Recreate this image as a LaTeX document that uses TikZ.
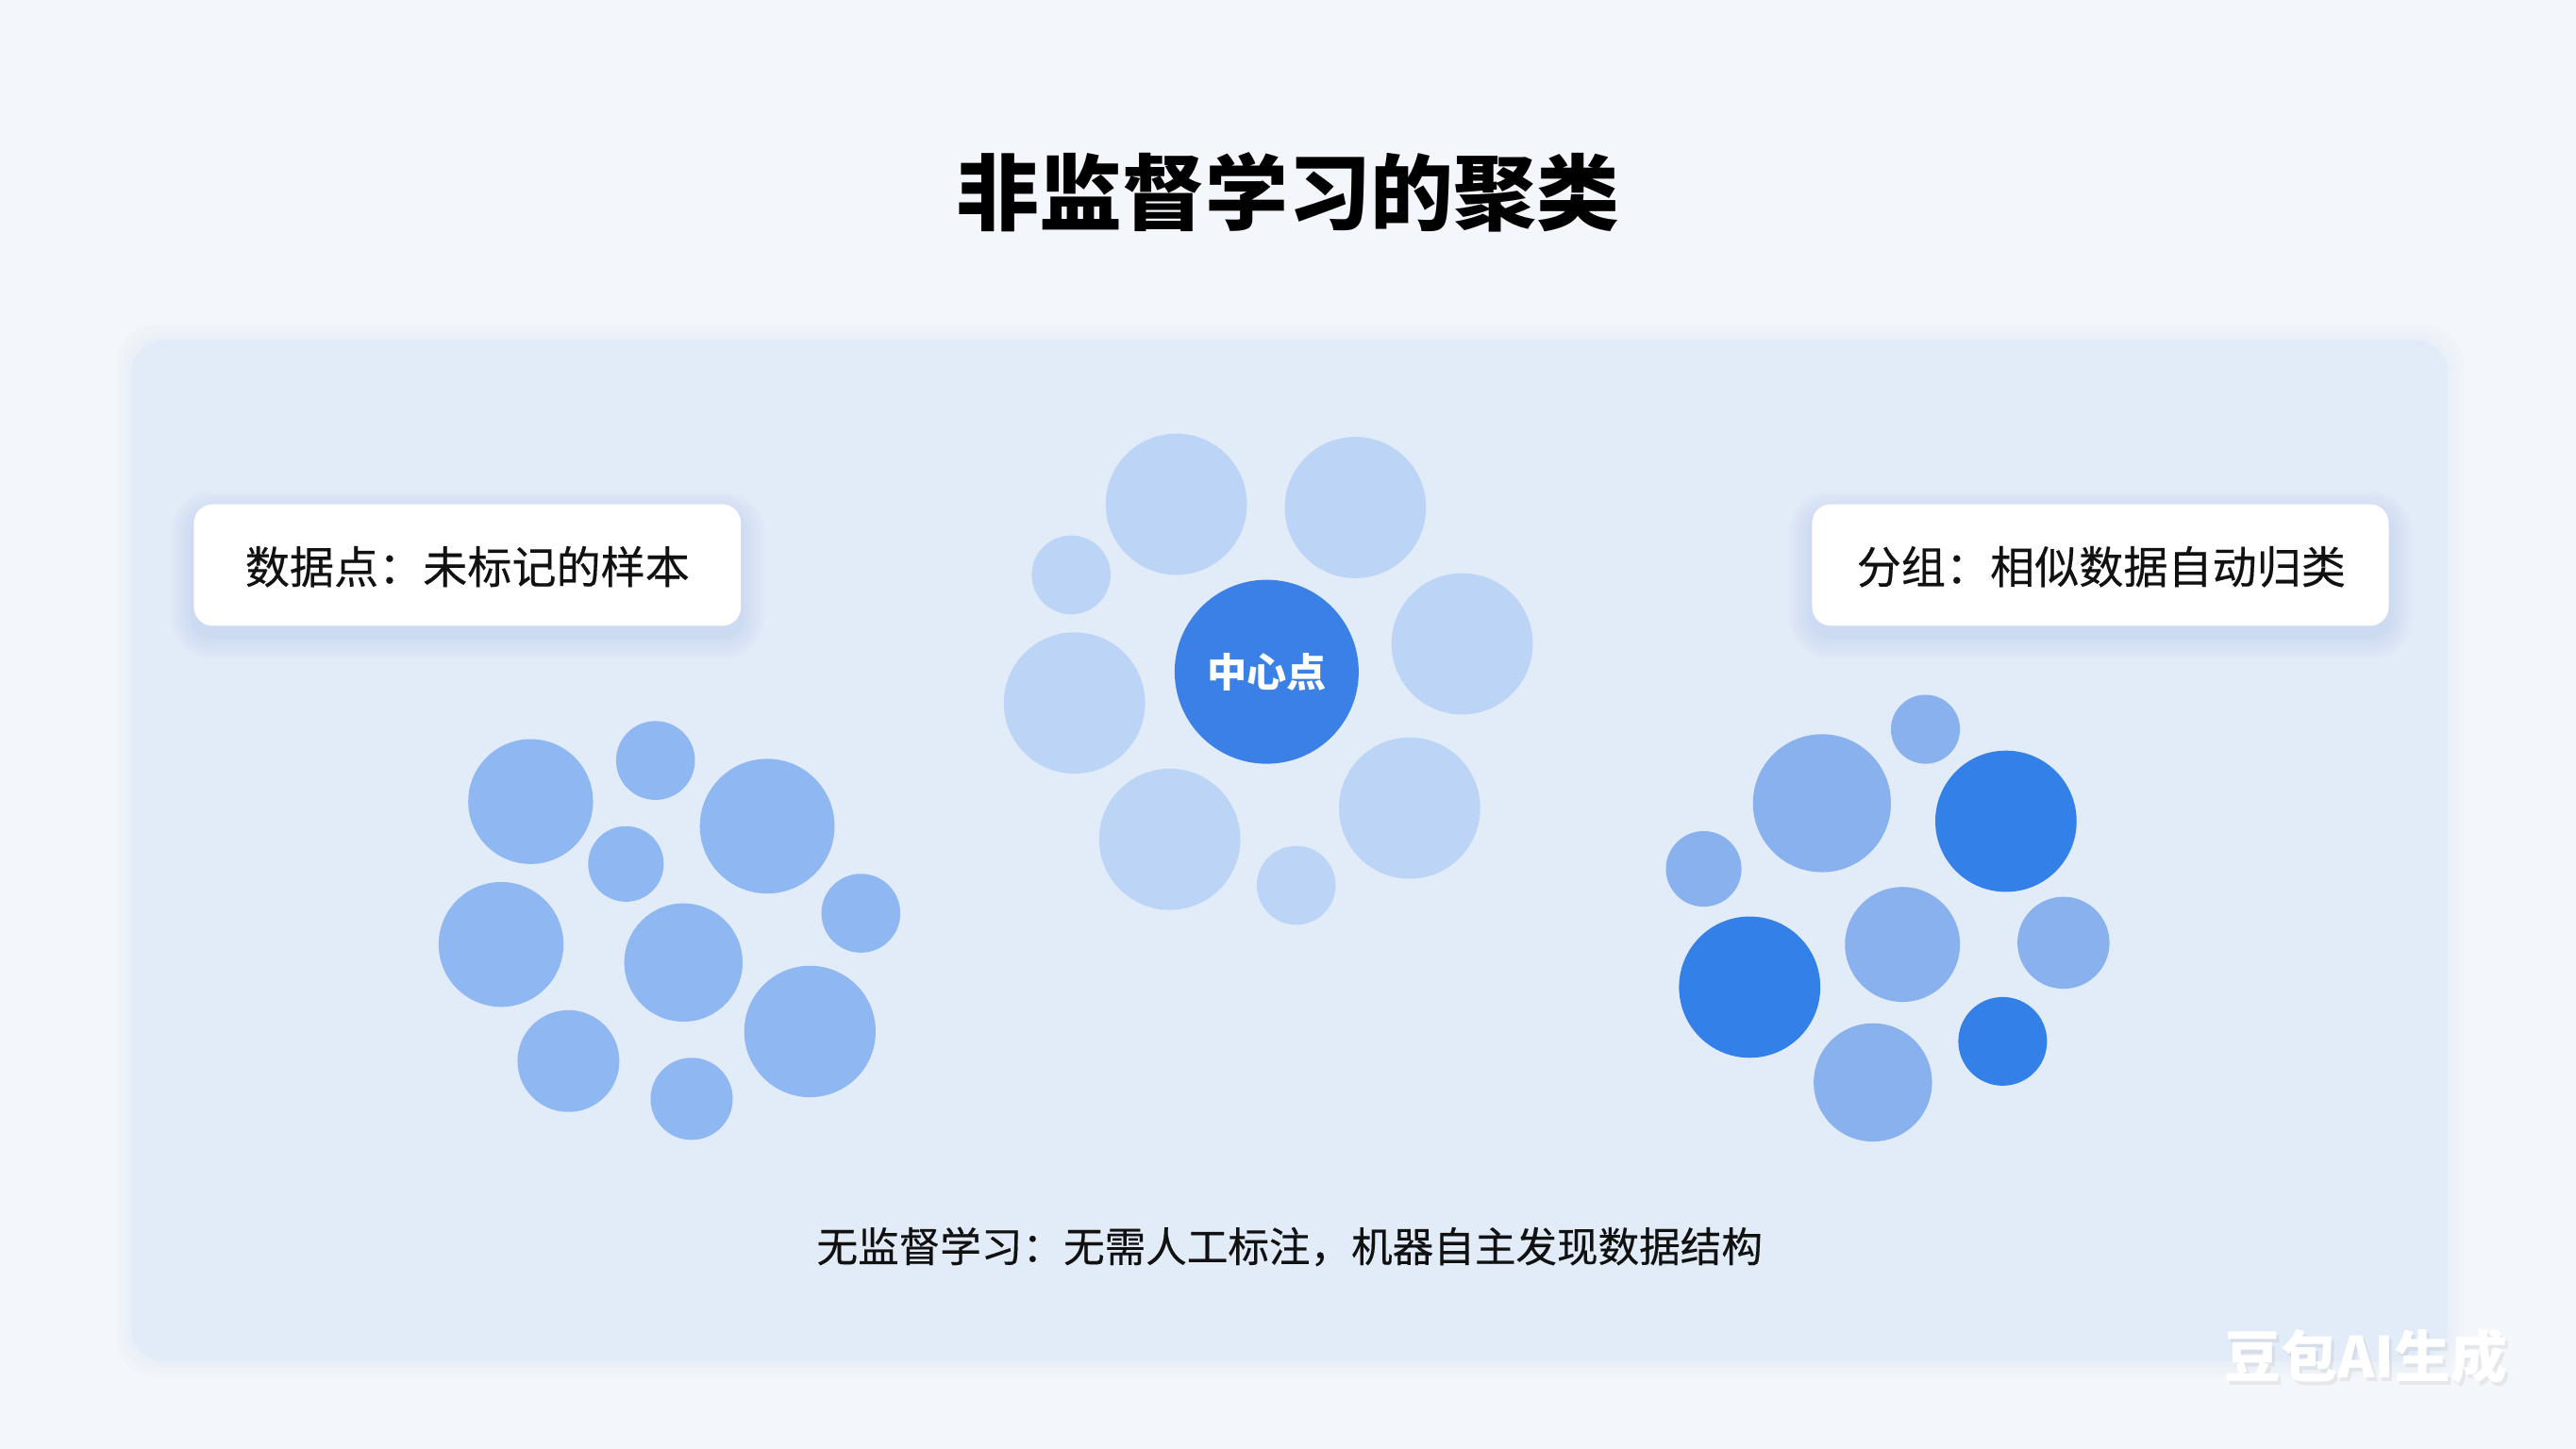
\documentclass[tikz,border=0pt]{standalone}
\usepackage{fontspec}
\newfontfamily\cjk{Noto Sans CJK SC}
\newfontfamily\cjkm[FakeBold=0.35]{Noto Sans CJK SC}
\definecolor{bgc}{HTML}{F3F6FA}
\definecolor{panelc}{HTML}{E2EBF8}
\definecolor{lightb}{HTML}{BCD4F5}
\definecolor{midb}{HTML}{8FB7F2}
\definecolor{midr}{HTML}{88B1EE}
\definecolor{darkb}{HTML}{3380E8}
\definecolor{centerb}{HTML}{3A80E6}
\definecolor{txt}{HTML}{111111}
\definecolor{shc}{HTML}{8EADE0}
\tikzset{
  labeltext/.style={font=\cjkm\fontsize{13.4pt}{16pt}\selectfont, text=txt},
  shad/.style={fill=shc, opacity=0.035},
}
\begin{document}
\begin{tikzpicture}[x=0.1741mm, y=-0.1741mm]
\useasboundingbox (0,0) rectangle (1568,882);
\fill[bgc] (0,0) rectangle (1568,882);
% panel glow
\foreach \d in {3,6,9}{
  \fill[shc, opacity=0.025, rounded corners=4mm] (80-\d,207-\d) rectangle (1490+\d,829+\d);
}
% panel
\fill[panelc, rounded corners=3.5mm] (80,207) rectangle (1490,829);
% title
\node[font=\cjk\bfseries\fontsize{25pt}{30pt}\selectfont, text=black] (title) at (784,117) {非监督学习的聚类};
% label box shadows
\foreach \d in {2,4,6,8,10,12,14}{
  \fill[shad, rounded corners=2mm+\d*0.17mm] (118-\d,307-\d+6) rectangle (451+\d,381+\d+6);
  \fill[shad, rounded corners=2mm+\d*0.17mm] (1103-\d,307-\d+6) rectangle (1454+\d,381+\d+6);
}
\fill[white, rounded corners=2mm] (118,307) rectangle (451,381);
\fill[white, rounded corners=2mm] (1103,307) rectangle (1454,381);
\node[labeltext] (lbl) at (284.5,345) {数据点：未标记的样本};
\node[labeltext] (lbr) at (1279,345) {分组：相似数据自动归类};
% center cluster
\foreach \x/\y/\r in {716/307/43, 825/309/43, 652/350/24, 890/392/43, 654/428/43, 858/492/43, 712/511/43, 789/539/24}{
  \fill[lightb] (\x,\y) circle (\r);
}
\fill[centerb] (771,409) circle (56);
\node[font=\cjk\bfseries\fontsize{12pt}{14pt}\selectfont, text=white] (ctr) at (771,409) {中心点};
% left cluster
\foreach \x/\y/\r in {323/488/38, 399/463/24, 467/503/41, 381/526/23, 305/575/38, 416/586/36, 524/556/24, 493/628/40, 346/646/31, 421/669/25}{
  \fill[midb] (\x,\y) circle (\r);
}
% right cluster
\foreach \x/\y/\r in {1172/444/21, 1109/489/42, 1037/529/23, 1158/575/35, 1256/574/28, 1140/659/36}{
  \fill[midr] (\x,\y) circle (\r);
}
\foreach \x/\y/\r in {1221/500/43, 1065/601/43, 1219/634/27}{
  \fill[darkb] (\x,\y) circle (\r);
}
% bottom text
\node[font=\cjkm\fontsize{12.4pt}{15pt}\selectfont, text=txt] (note) at (785,759) {无监督学习：无需人工标注，机器自主发现数据结构};
% watermark
\node[font=\cjk\bfseries\fontsize{17pt}{20pt}\selectfont, text=gray, opacity=0.12] at (1442,828) {豆包AI生成};
\node[font=\cjk\bfseries\fontsize{17pt}{20pt}\selectfont, text=white] (wm) at (1440,826) {豆包AI生成};
\end{tikzpicture}
\end{document}
